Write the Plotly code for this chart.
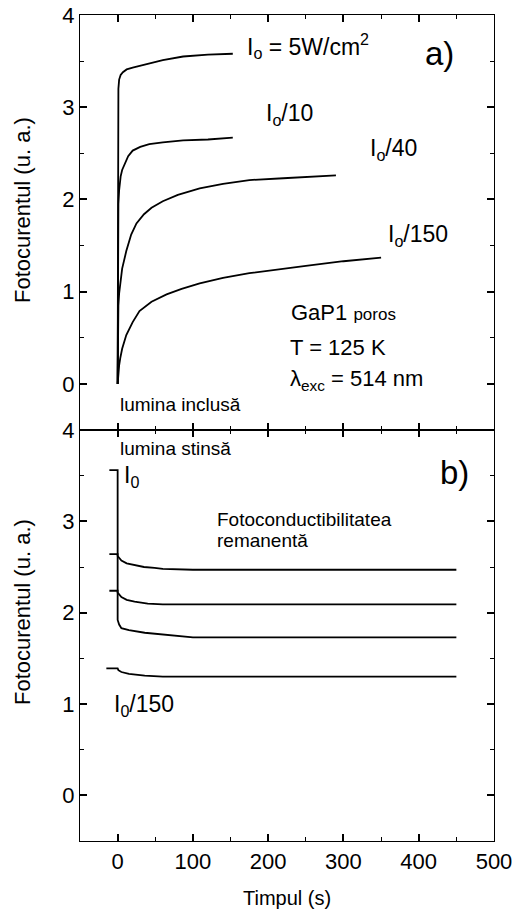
import plotly.graph_objects as go

# ---------------- data (a) lumina inclusa ----------------
t_on_I0 = [0, 0, 0.5, 1, 2, 4, 7, 12, 20, 30, 42, 60, 87, 120, 153]
y_on_I0 = [0, 2.5, 3.05, 3.2, 3.3, 3.35, 3.38, 3.41, 3.43, 3.45, 3.47, 3.51, 3.55, 3.57, 3.58]

t_on_I10 = [0, 0.5, 1, 2, 4, 6, 9, 14, 20, 30, 42, 60, 87, 120, 153]
y_on_I10 = [0, 1.7, 1.95, 2.1, 2.25, 2.32, 2.38, 2.47, 2.53, 2.57, 2.60, 2.62, 2.64, 2.65, 2.67]

t_on_I40 = [0, 0.5, 1, 2, 3.5, 6, 11.5, 18, 25, 35, 45, 60, 80, 109, 140, 175, 220, 260, 290]
y_on_I40 = [0, 0.6, 0.85, 0.98, 1.08, 1.25, 1.44, 1.62, 1.74, 1.84, 1.91, 1.98, 2.05, 2.12, 2.17, 2.21, 2.23, 2.25, 2.26]

t_on_I150 = [0, 1, 2, 3.5, 6, 11.5, 20, 29, 45, 65, 85, 109, 140, 175, 210, 250, 300, 350]
y_on_I150 = [0, 0.12, 0.2, 0.28, 0.38, 0.53, 0.67, 0.79, 0.89, 0.97, 1.03, 1.09, 1.15, 1.20, 1.24, 1.28, 1.33, 1.37]

# ---------------- data (b) lumina stinsa ----------------
t_off_I0 = [-11, 0, 0, 2, 5, 15, 36, 60, 80, 100, 450]
y_off_I0 = [3.56, 3.56, 1.92, 1.87, 1.83, 1.81, 1.78, 1.76, 1.74, 1.73, 1.73]

t_off_I10 = [-11, 0, 0, 2, 5, 12, 22.5, 35, 49, 60, 100, 450]
y_off_I10 = [2.64, 2.64, 2.62, 2.60, 2.57, 2.54, 2.52, 2.50, 2.49, 2.48, 2.47, 2.47]

t_off_I40 = [-11, 0, 0, 2, 5, 12, 22.5, 40, 60, 450]
y_off_I40 = [2.24, 2.24, 2.22, 2.20, 2.17, 2.14, 2.12, 2.10, 2.09, 2.09]

t_off_I150 = [-15, 0, 1, 5, 15, 36, 60, 450]
y_off_I150 = [1.39, 1.39, 1.37, 1.35, 1.33, 1.31, 1.30, 1.30]

x_ticks = [0, 100, 200, 300, 400, 500]
y_ticks = [0, 1, 2, 3, 4]

FONT = "Arial"
LINE = dict(color="black", width=1.8)

fig = go.Figure()

for t, y in [(t_on_I0, y_on_I0), (t_on_I10, y_on_I10), (t_on_I40, y_on_I40), (t_on_I150, y_on_I150)]:
    fig.add_trace(go.Scatter(x=t, y=y, xaxis="x", yaxis="y", mode="lines", line=LINE,
                             showlegend=False))
for t, y in [(t_off_I0, y_off_I0), (t_off_I10, y_off_I10), (t_off_I40, y_off_I40), (t_off_I150, y_off_I150)]:
    fig.add_trace(go.Scatter(x=t, y=y, xaxis="x2", yaxis="y2", mode="lines", line=LINE,
                             showlegend=False))

split = 411 / 826
tf = dict(family=FONT, size=22, color="black")
common = dict(showline=True, linecolor="black", linewidth=1.3, mirror="ticks",
              ticks="inside", ticklen=7, tickwidth=1.5, tickcolor="black",
              showgrid=False, zeroline=False, tickfont=tf, automargin=False)
mx = dict(ticks="inside", ticklen=4, tickwidth=1.2, tickcolor="black", dtick=50, tick0=0, showgrid=False)
my = dict(ticks="inside", ticklen=4, tickwidth=1.2, tickcolor="black", dtick=0.5, tick0=0, showgrid=False)

xa1 = dict(common, anchor="y", domain=[0, 1], range=[-50, 500], autorange=False, tickvals=x_ticks,
           showticklabels=False, minor=mx)
ya1 = dict(common, anchor="x", domain=[split, 1], range=[-0.5, 4], autorange=False, tickvals=y_ticks, minor=my)
xa2 = dict(common, anchor="y2", domain=[0, 1], range=[-50, 500], autorange=False, tickvals=x_ticks, minor=mx)
ya2 = dict(common, anchor="x2", domain=[0, split], range=[-0.5, 4], autorange=False, tickvals=y_ticks, minor=my)

ann = []
def a(text, x, y, xref, yref, size, **kw):
    d = dict(text=text, x=x, y=y, xref=xref, yref=yref, showarrow=False,
             xanchor="left", yanchor="middle", font=dict(family=FONT, size=size, color="black"))
    d.update(kw)
    ann.append(d)

a("I<sub>o</sub> = 5W/cm<sup>2</sup>", 169, 3.66, "x", "y", 23)
a("a)", 406, 3.58, "x", "y", 33)
a("I<sub>o</sub>/10", 195, 2.92, "x", "y", 23)
a("I<sub>o</sub>/40", 332, 2.54, "x", "y", 23)
a("I<sub>o</sub>/150", 357, 1.61, "x", "y", 23)
a("GaP1 <span style='font-size:17px'>poros</span>", 228, 0.77, "x", "y", 22)
a("T = 125 K", 226, 0.39, "x", "y", 22)
a("λ<sub>exc</sub> = 514 nm", 226, 0.04, "x", "y", 22)
a("lumina inclusă", 1, -0.22, "x", "y", 19)
a("lumina stinsă", 0, 3.80, "x2", "y2", 19)
a("I<sub>0</sub>", 6, 3.49, "x2", "y2", 23)
a("b)", 426, 3.54, "x2", "y2", 33)
a("Fotoconductibilitatea", 129, 3.02, "x2", "y2", 19)
a("remanentă", 129, 2.79, "x2", "y2", 19)
a("I<sub>0</sub>/150", -7, 0.98, "x2", "y2", 23)
a("Fotocurentul (u. a.)", -0.14, (841 - 210) / 826, "paper", "paper", 22, textangle=-90, xanchor="center")
a("Fotocurentul (u. a.)", -0.14, (841 - 612) / 826, "paper", "paper", 22, textangle=-90, xanchor="center")
a("Timpul (s)", 0.5, (841 - 898) / 826, "paper", "paper", 20, xanchor="center")

fig.update_layout(
    template="none",
    width=517, height=912,
    margin=dict(l=80, r=23, t=15, b=71, autoexpand=False),
    xaxis=xa1, yaxis=ya1, xaxis2=xa2, yaxis2=ya2,
    annotations=ann,
)

fig.write_html("out.html")
